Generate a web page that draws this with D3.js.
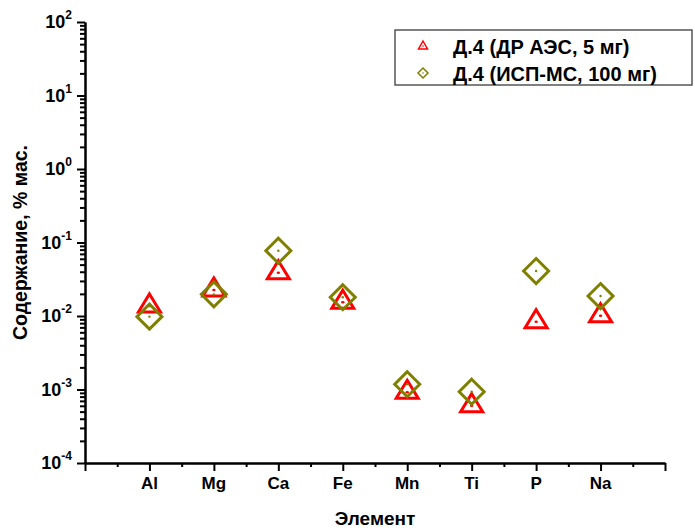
<!DOCTYPE html>
<html><head><meta charset="utf-8">
<script src="https://cdn.jsdelivr.net/npm/d3@7/dist/d3.min.js"></script>
<style>
body{margin:0;background:#fff;}
svg{font-family:"Liberation Sans",Arial,sans-serif;font-weight:bold;}
</style></head>
<body><svg id="c" width="695" height="529"></svg>
<script>
const elements = ["Al","Mg","Ca","Fe","Mn","Ti","P","Na"];
const aesValues = [0.0137, 0.0226, 0.0388, 0.0154, 0.000916, 0.000602, 0.00836, 0.0101];
const icpValues = [0.0098, 0.0197, 0.0773, 0.0180, 0.00118, 0.000933, 0.0409, 0.0187];
const seriesNames = ["Д.4 (ДР АЭС, 5 мг)", "Д.4 (ИСП-МС, 100 мг)"];
const yMajorExps = [-4,-3,-2,-1,0,1,2];
const xTitle = "Элемент";
const yTitle = "Содержание, % мас.";

const svg = d3.select("#c");
const L = 85, R = 665, T = 22, B = 463;
const x = d3.scaleLinear().domain([0, 9]).range([L, R]);
const y = d3.scaleLog().domain([1e-4, 1e2]).range([B, T]);
const RED = "#ff0000", OLIVE = "#808000";

// Y axis
const majors = yMajorExps.map(e => Math.pow(10, e));
const minors = [];
for (let e = -4; e < 2; e++) for (let m = 2; m <= 9; m++) minors.push(m * Math.pow(10, e));
const yAx = svg.append("g").attr("transform", `translate(${L},0)`);
yAx.call(d3.axisLeft(y).tickValues(majors).tickSize(8).tickFormat("").tickSizeOuter(0));
yAx.append("g").call(d3.axisLeft(y).tickValues(minors).tickSize(5).tickFormat("").tickSizeOuter(0));
yAx.selectAll("path,line").attr("stroke", "#000").attr("stroke-width", 2);

// Y tick labels
yMajorExps.forEach(e => {
  const t = svg.append("text").attr("x", 72).attr("y", y(Math.pow(10, e)) + 6)
    .attr("text-anchor", "end").attr("font-size", 18).attr("fill", "#000");
  t.append("tspan").text("10");
  t.append("tspan").attr("dy", -9).attr("font-size", 12).text(String(e));
});

// X axis
const xAx = svg.append("g").attr("transform", `translate(0,${B})`);
xAx.call(d3.axisBottom(x).tickValues(d3.range(0, 10)).tickSize(8).tickFormat("").tickSizeOuter(0));
xAx.append("g").call(d3.axisBottom(x).tickValues(d3.range(0.5, 9, 1)).tickSize(4).tickFormat("").tickSizeOuter(0));
xAx.selectAll("path,line").attr("stroke", "#000").attr("stroke-width", 2);

elements.forEach((el, i) => {
  svg.append("text").attr("x", x(i + 1)).attr("y", 489).attr("text-anchor", "middle")
    .attr("font-size", 17).attr("fill", "#000").text(el);
});

// Titles
svg.append("text").attr("x", (L + R) / 2).attr("y", 525).attr("text-anchor", "middle")
  .attr("font-size", 19).text(xTitle);
svg.append("text").attr("transform", `translate(27,${(T + B) / 2}) rotate(-90)`)
  .attr("text-anchor", "middle").attr("font-size", 19.5).text(yTitle);

// Markers
const triPath = "M0,-12L11,6L-11,6Z";
const diaPath = "M0,-12.5L12.5,0L0,12.5L-12.5,0Z";
const gT = svg.append("g");
elements.forEach((el, i) => {
  const cx = x(i + 1), cy = y(aesValues[i]);
  gT.append("path").attr("d", triPath).attr("transform", `translate(${cx},${cy})`)
    .attr("fill", "none").attr("stroke", RED).attr("stroke-width", 3);
  gT.append("ellipse").attr("cx", cx).attr("cy", cy).attr("rx", 1.7).attr("ry", 1.2).attr("fill", RED);
});
const gD = svg.append("g");
elements.forEach((el, i) => {
  const cx = x(i + 1), cy = y(icpValues[i]);
  gD.append("path").attr("d", diaPath).attr("transform", `translate(${cx},${cy})`)
    .attr("fill", "none").attr("stroke", OLIVE).attr("stroke-width", 3);
  gD.append("circle").attr("cx", cx).attr("cy", cy).attr("r", 1.2).attr("fill", OLIVE);
});

// Legend
const lg = svg.append("g");
lg.append("rect").attr("x", 395).attr("y", 30).attr("width", 297).attr("height", 55)
  .attr("fill", "#fff").attr("stroke", "#555").attr("stroke-width", 1.5);
lg.append("path").attr("d", "M0,-5L4.5,3L-4.5,3Z").attr("transform", "translate(423,46)")
  .attr("fill", "none").attr("stroke", RED).attr("stroke-width", 1.5);
lg.append("circle").attr("cx", 423).attr("cy", 46).attr("r", 0.8).attr("fill", RED);
lg.append("path").attr("d", "M0,-5L5,0L0,5L-5,0Z").attr("transform", "translate(423,73)")
  .attr("fill", "none").attr("stroke", OLIVE).attr("stroke-width", 1.5);
lg.append("circle").attr("cx", 423).attr("cy", 73).attr("r", 0.8).attr("fill", OLIVE);
seriesNames.forEach((s, i) => {
  lg.append("text").attr("x", 453).attr("y", 54 + i * 27).attr("font-size", 20).text(s);
});
</script></body></html>
